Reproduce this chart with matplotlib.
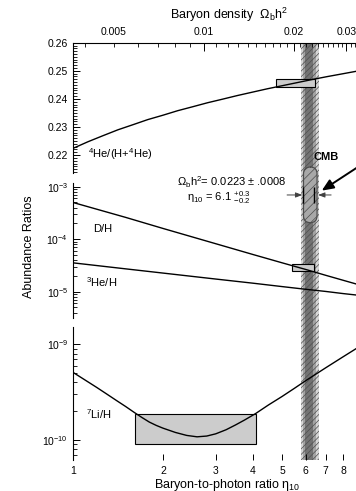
"""
BBN abundance plot: light element abundances vs baryon-to-photon ratio,
with the CMB band and observational boxes.
"""

import matplotlib
matplotlib.use("Agg")
import matplotlib.pyplot as plt
from matplotlib.patches import FancyBboxPatch
from matplotlib.ticker import MultipleLocator, LogLocator, NullLocator, FormatStrFormatter

plt.rcParams['font.family'] = ['Liberation Sans', 'DejaVu Sans']
plt.rcParams['mathtext.fontset'] = 'custom'
plt.rcParams['mathtext.rm'] = 'Liberation Sans'
plt.rcParams['mathtext.it'] = 'Liberation Sans:italic'
plt.rcParams['mathtext.bf'] = 'Liberation Sans:bold'
plt.rcParams['mathtext.default'] = 'regular'
plt.rcParams['hatch.linewidth'] = 0.5

# ---- data ----
eta_he = [1, 1.122, 1.259, 1.413, 1.585, 1.778, 2.0, 2.239, 2.512, 2.818, 3.162,
          3.548, 3.981, 4.467, 5.012, 5.623, 6.31, 7.079, 7.943, 8.913, 10]
yp_he = [0.2224, 0.22475, 0.2269, 0.2290, 0.2308, 0.23263, 0.2342, 0.2358, 0.2372,
         0.23863, 0.2399, 0.2412, 0.2424, 0.2436, 0.2447, 0.2458, 0.2469, 0.24793,
         0.2489, 0.24988, 0.2508]

eta_dh = [1, 1.5, 2, 3, 4, 5, 6, 7, 8, 10]
d_h = [5.0e-4, 2.6e-4, 1.6e-4, 8.2e-5, 5.1e-5, 3.55e-5, 2.65e-5, 2.05e-5, 1.65e-5, 1.15e-5]
he3_h = [3.54e-5, 2.72e-5, 2.26e-5, 1.74e-5, 1.45e-5, 1.25e-5, 1.11e-5, 1.01e-5, 9.2e-6, 8.0e-6]

eta_li = [1, 1.1, 1.2, 1.3, 1.4, 1.5, 1.6, 1.7, 1.8, 1.9, 2.0, 2.2, 2.4, 2.6, 2.8,
          3.0, 3.25, 3.5, 3.75, 4.08, 4.5, 5, 5.5, 6, 7, 8, 9, 10]
li_h = [5.10e-10, 4.22e-10, 3.55e-10, 3.01e-10, 2.58e-10, 2.24e-10, 1.95e-10,
        1.72e-10, 1.54e-10, 1.42e-10, 1.33e-10, 1.20e-10, 1.117e-10, 1.08e-10,
        1.10e-10, 1.16e-10, 1.28e-10, 1.44e-10, 1.62e-10, 1.89e-10, 2.32e-10,
        2.85e-10, 3.47e-10, 4.17e-10, 5.69e-10, 7.41e-10, 9.33e-10, 1.15e-9]

# observed boxes: eta low, eta high, abundance low, abundance high
he_box = [4.77, 6.45, 0.2441, 0.2472]
dh_box = [5.39, 6.40, 2.46e-5, 3.30e-5]
li_box = [1.61, 4.08, 9.0e-11, 1.89e-10]

# CMB value eta10 = 6.1 +0.3 -0.2, shown band layers
cmb_eta = 6.1
cmb_lo, cmb_hi = 5.9, 6.4
band_lo = [5.78, 5.88, 5.98]
band_hi = [6.64, 6.50, 6.34]
band_col = ['0.84', '0.64', '0.45']

eta_ticks = [1, 2, 3, 4, 5, 6, 7, 8]
omega_major = [0.01, 0.02, 0.03]
omega_minor = [0.004, 0.005, 0.006, 0.007, 0.008, 0.009] + \
    [round(0.011 + 0.001 * i, 3) for i in range(26) if i not in (9, 19)]
ETA_PER_OMEGA = 273.9

W, H = 356, 491
fig = plt.figure(figsize=(W / 100, H / 100), dpi=100)


def px_axes(top, bottom):
    # axes spans x=1..10 from pixel 73 to 372 (the picture is cut at 356)
    return fig.add_axes([73 / W, 1 - bottom / H, 299 / W, (bottom - top) / H])


def ftext(x, y, s, **kw):
    fig.text(x / W, 1 - y / H, s, **kw)


# background axes for the CMB band, covers all three panels
axb = px_axes(42.7, 460)
axb.set_xscale('log')
axb.set_xlim(1, 10)
axb.set_ylim(0, 1)
axb.axis('off')
axb.set_zorder(0)
for lo, hi, c in zip(band_lo, band_hi, band_col):
    axb.axvspan(lo, hi, color=c, lw=0)
axb.axvspan(band_lo[0], band_hi[0], facecolor='none', edgecolor='0.3',
            hatch='//////', lw=0)

ax1 = px_axes(42.7, 173)
ax2 = px_axes(183, 318)
ax3 = px_axes(327, 460)

for ax in (ax1, ax2, ax3):
    ax.set_zorder(1)
    ax.set_facecolor('none')
    ax.set_xscale('log')
    ax.set_xlim(1, 10)
    for s in ('right', 'bottom', 'top'):
        ax.spines[s].set_visible(False)
    ax.spines['left'].set_linewidth(0.8)
    ax.tick_params(axis='x', which='both', bottom=False, top=False,
                   labelbottom=False, labeltop=False)
    ax.tick_params(axis='y', which='major', direction='in', length=5, width=0.7,
                   labelsize=7.5, pad=3.5)
    ax.tick_params(axis='y', which='minor', direction='in', length=3, width=0.6)

# helium panel
ax1.spines['top'].set_visible(True)
ax1.spines['top'].set_linewidth(0.8)
ax1.set_ylim(0.21363, 0.26)
ax1.yaxis.set_major_locator(MultipleLocator(0.01))
ax1.yaxis.set_minor_locator(MultipleLocator(0.001))
ax1.yaxis.set_major_formatter(FormatStrFormatter('%.2f'))
ax1.plot(eta_he, yp_he, color='k', lw=1.0)
ax1.add_patch(plt.Rectangle((he_box[0], he_box[2]), he_box[1] - he_box[0],
                            he_box[3] - he_box[2], fc='0.8', ec='k', lw=0.8))

sec = ax1.secondary_xaxis('top', functions=(lambda e: e / ETA_PER_OMEGA,
                                            lambda w: w * ETA_PER_OMEGA))
sec.spines['top'].set_visible(False)
sec.set_xticks(omega_major, labels=['0.01', '0.02', '0.03'])
sec.set_xticks(omega_minor, labels=['0.005' if w == 0.005 else '' for w in omega_minor],
               minor=True)
sec.tick_params(which='major', direction='in', length=6, width=0.7, labelsize=7.5, pad=4)
sec.tick_params(which='minor', direction='in', length=3, width=0.6, labelsize=7.5, pad=4)

# D and 3He panel
ax2.set_yscale('log')
ax2.set_ylim(3.15e-6, 1.175e-3)
ax2.yaxis.set_major_locator(LogLocator(base=10))
ax2.yaxis.set_minor_locator(LogLocator(base=10, subs=range(2, 10)))
ax2.plot(eta_dh, d_h, color='k', lw=1.0)
ax2.plot(eta_dh, he3_h, color='k', lw=1.0)
ax2.add_patch(plt.Rectangle((dh_box[0], dh_box[2]), dh_box[1] - dh_box[0],
                            dh_box[3] - dh_box[2], fc='0.8', ec='k', lw=0.8))

# lithium panel
ax3.set_yscale('log')
ax3.set_ylim(6.18e-11, 1.52e-9)
ax3.yaxis.set_major_locator(LogLocator(base=10))
ax3.yaxis.set_minor_locator(LogLocator(base=10, subs=range(2, 10)))
ax3.plot(eta_li, li_h, color='k', lw=1.0)
ax3.add_patch(plt.Rectangle((li_box[0], li_box[2]), li_box[1] - li_box[0],
                            li_box[3] - li_box[2], fc='0.8', ec='k', lw=0.8))
ax3.set_xticks(eta_ticks + [9], labels=[str(t) for t in eta_ticks] + [''])
ax3.xaxis.set_minor_locator(NullLocator())
ax3.tick_params(axis='x', which='major', bottom=True, labelbottom=True,
                direction='in', length=4, width=0.7, labelsize=7.5, pad=4.5)

# CMB capsule with the error bars inside
xa = axb.transData.transform([(5.90, 0.5), (6.55, 0.5)])[:, 0] / fig.dpi
cap = FancyBboxPatch((xa[0], (H - 222.7) / 100), xa[1] - xa[0], 55.7 / 100,
                     boxstyle='round,pad=0,rounding_size=0.07',
                     transform=fig.dpi_scale_trans, fc='0.66', ec='0.3',
                     lw=0.9, hatch='////', clip_on=False, zorder=5)
axb.add_artist(cap)
ax2.vlines([cmb_lo, cmb_hi], 4.9e-4, 9.9e-4, color='k', lw=1.0, zorder=6,
           clip_on=False)
ax2.annotate('', xy=(5.85, 6.95e-4), xytext=(5.2, 6.95e-4),
             arrowprops=dict(arrowstyle='-|>,head_length=0.4,head_width=0.15',
                             color='0.25', lw=0.7, shrinkA=0, shrinkB=0))
ax2.annotate('', xy=(6.6, 6.95e-4), xytext=(7.3, 6.95e-4),
             arrowprops=dict(arrowstyle='-|>,head_length=0.4,head_width=0.15',
                             color='0.25', lw=0.7, shrinkA=0, shrinkB=0))
ax2.annotate('', xy=(6.79, 8.4e-4), xytext=(10, 3.55e-3), annotation_clip=False,
             arrowprops=dict(arrowstyle='-|>,head_length=0.7,head_width=0.3',
                             color='k', lw=1.4, shrinkA=0, shrinkB=0))

# texts
ftext(229, 19.3, r'Baryon density  $\Omega_b h^2$', ha='center', va='baseline', fontsize=9)
ftext(227, 487.7, r'Baryon-to-photon ratio $\eta_{10}$', ha='center', va='baseline',
      fontsize=9)
ftext(29.5, 247, 'Abundance Ratios', rotation=90, ha='center', va='center', fontsize=9)
ftext(88.3, 158.5, r'$^4$He/(H+$^4$He)', va='baseline', fontsize=8)
ftext(92.7, 231.7, 'D/H', va='baseline', fontsize=8)
ftext(86, 286.7, r'$^3$He/H', va='baseline', fontsize=8)
ftext(86, 419, r'$^7$Li/H', va='baseline', fontsize=8)
ftext(177.3, 186, r'$\Omega_b h^2$= 0.0223 ± .0008', va='baseline', fontsize=8)
ftext(187.3, 201, r'$\eta_{10}$ = 6.1 $^{+0.3}_{-0.2}$', va='baseline', fontsize=8)
ftext(325.7, 159.5, 'CMB', ha='center', va='baseline', fontsize=8, fontweight='bold')

fig.savefig('out.png', dpi=100)
